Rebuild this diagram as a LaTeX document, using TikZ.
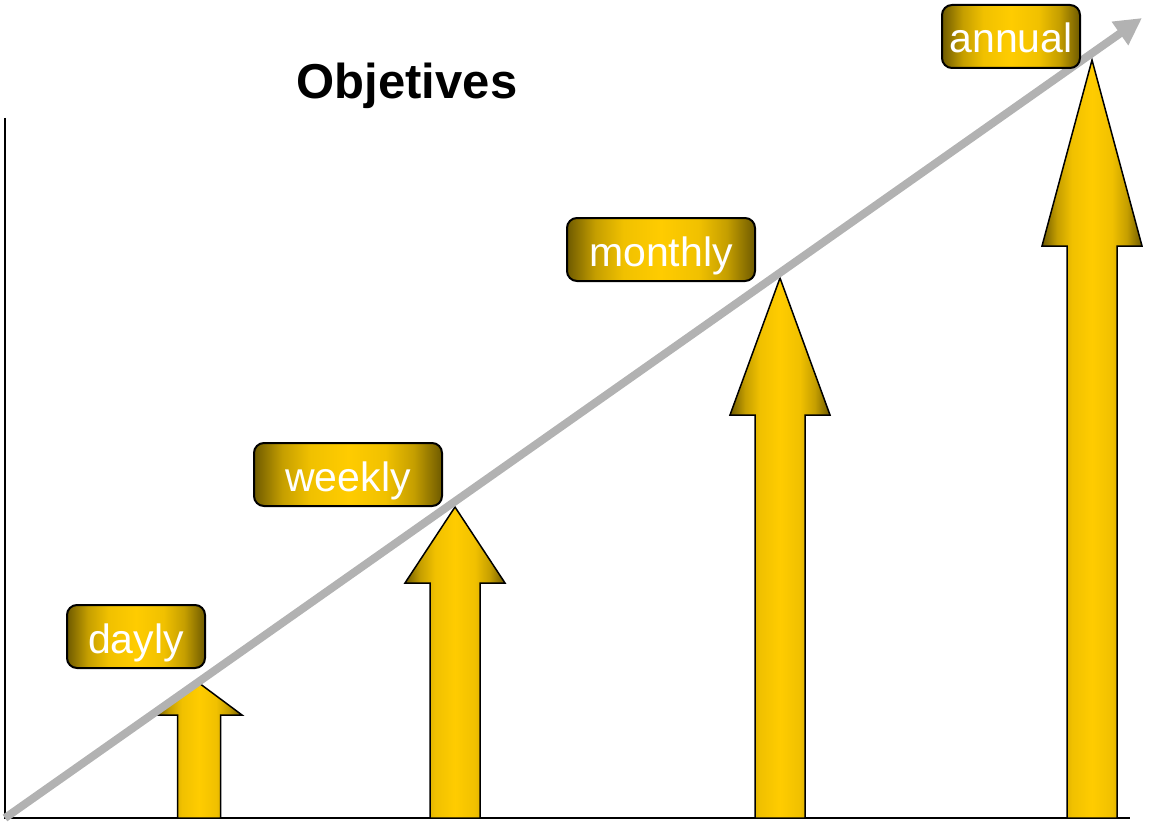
\documentclass[tikz,border=0pt]{standalone}
\usepackage{fontspec}
\setmainfont{Liberation Sans}
\usetikzlibrary{arrows.meta}
\definecolor{darkgold}{RGB}{110,90,0}
\definecolor{gold}{RGB}{255,204,0}
\colorlet{goldmid}{gold!60!darkgold}
\colorlet{goldlight}{gold!90!darkgold}
\definecolor{trendgray}{RGB}{178,178,178}
\pgfdeclarehorizontalshading{goldfade}{100bp}{color(0bp)=(darkgold); color(25bp)=(darkgold); color(32.5bp)=(goldmid); color(40bp)=(goldlight); color(50bp)=(gold); color(60bp)=(goldlight); color(67.5bp)=(goldmid); color(75bp)=(darkgold); color(100bp)=(darkgold)}

\begin{document}
\begin{tikzpicture}[x=1pt,y=-1pt,
  labelbox/.style={draw=black,line width=2pt,rounded corners=10pt,shading=goldfade,text=white,font=\fontsize{41}{41}\selectfont,minimum width=#1,minimum height=63pt,inner sep=0pt,text height=33pt,text depth=0pt},
  bar/.style={draw=black,line width=1.5pt,shading=goldfade}]
  \useasboundingbox (0,0) rectangle (1157,824);
  \coordinate (top) at (5,118);
  \coordinate (origin) at (5,818);
  \coordinate (right) at (1130,818);
  \coordinate (trendend) at (1142,18);
  \draw[line width=1.5pt] (top) -- (origin) -- (right);
  % bars: centre x / tip y / head base y / head half width / shaft half width
  \foreach \cx/\tipy/\basey/\hw/\sw in {199/683/715/43/21.5, 455/507/583/50/25, 780/278/415/50/25, 1092/60/246/50/25}
    \path[bar] (\cx-\sw,818) -- (\cx-\sw,\basey) -- (\cx-\hw,\basey) -- (\cx,\tipy) -- (\cx+\hw,\basey) -- (\cx+\sw,\basey) -- (\cx+\sw,818) -- cycle;
  \draw[line width=8pt,trendgray,-{Triangle[length=27pt,width=27pt]}] (origin) -- (trendend);
  \node[labelbox=138pt] (dayly) at (136,636.5) {dayly};
  \node[labelbox=188pt] (weekly) at (348,474.5) {weekly};
  \node[labelbox=188pt] (monthly) at (661,249.5) {monthly};
  \node[labelbox=138pt] (annual) at (1011,36.5) {annual};
  \node[font=\bfseries\fontsize{49}{49}\selectfont] (title) at (407,86) {Objetives};
\end{tikzpicture}
\end{document}
